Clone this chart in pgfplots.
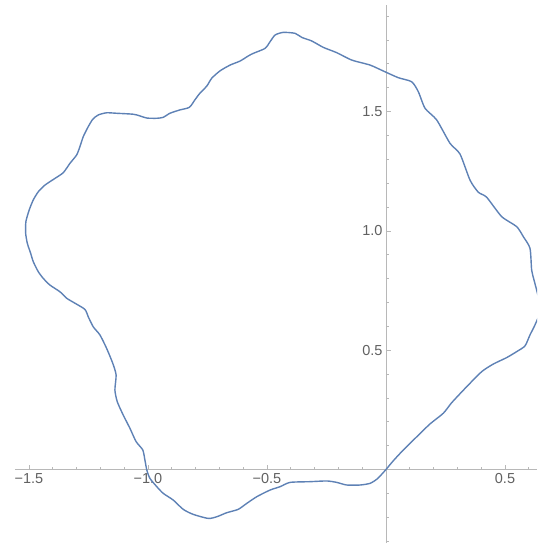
\documentclass[border=0pt]{standalone}
\usepackage{fontspec}
\setmainfont{Liberation Sans}
\usepackage{pgfplots}
\pgfplotsset{compat=1.18}
\definecolor{curve}{rgb}{0.368,0.507,0.710}
\definecolor{axgray}{gray}{0.72}
\definecolor{txtgray}{gray}{0.38}
\begin{document}
\begin{tikzpicture}
\begin{axis}[name=ax, scale only axis, width=522pt, height=538pt,
 axis lines=middle, xmin=-1.5588, xmax=0.6345, ymin=-0.308, ymax=1.9468,
 axis line style={axgray, line width=0.8pt, -},
 xtick={-1.5,-1,-0.5,0.5}, xticklabels={−1.5,−1.0,−0.5,0.5},
 ytick={0.5,1,1.5}, yticklabels={0.5,1.0,1.5},
 minor xtick={-1.4,-1.3,-1.2,-1.1,-0.9,-0.8,-0.7,-0.6,-0.4,-0.3,-0.2,-0.1,0.1,0.2,0.3,0.4,0.6},
 minor ytick={-0.3,-0.2,-0.1,0.1,0.2,0.3,0.4,0.6,0.7,0.8,0.9,1.1,1.2,1.3,1.4,1.6,1.7,1.8,1.9},
 tick style={axgray, line width=0.8pt},
 major tick length=5pt, minor tick length=3pt,
 tick align=inside,
 ticklabel style={font=\fontsize{14.5}{17}\selectfont, text=txtgray},
 clip=true,
 ]
\addplot[curve, line width=1.4pt, smooth, tension=0.4] coordinates {
(0,0) (0.031,0.037) (0.073,0.082) (0.129,0.137) (0.185,0.191) (0.241,0.236)
(0.276,0.280) (0.339,0.347) (0.402,0.410) (0.451,0.442) (0.507,0.469)
(0.549,0.494) (0.584,0.518) (0.605,0.564) (0.626,0.606) (0.650,0.668)
(0.640,0.724) (0.622,0.794) (0.612,0.836) (0.605,0.927) (0.577,0.976)
(0.549,1.018) (0.486,1.060) (0.423,1.141) (0.388,1.162) (0.353,1.213)
(0.311,1.322) (0.269,1.367) (0.213,1.465) (0.164,1.514) (0.136,1.583)
(0.108,1.625) (0.052,1.642) (-0.011,1.670) (-0.067,1.695) (-0.144,1.716)
(-0.207,1.747) (-0.263,1.769) (-0.312,1.796) (-0.354,1.811) (-0.382,1.828)
(-0.432,1.832) (-0.466,1.821) (-0.487,1.793) (-0.508,1.765) (-0.558,1.744)
(-0.579,1.733) (-0.613,1.712) (-0.655,1.695) (-0.697,1.671) (-0.732,1.640)
(-0.753,1.607) (-0.782,1.577) (-0.803,1.549) (-0.826,1.518) (-0.866,1.507)
(-0.908,1.493) (-0.936,1.476) (-0.963,1.472) (-1.005,1.473) (-1.034,1.482)
(-1.062,1.489) (-1.132,1.493) (-1.174,1.495) (-1.209,1.486) (-1.232,1.468)
(-1.251,1.437) (-1.272,1.395) (-1.286,1.353) (-1.300,1.318) (-1.328,1.283)
(-1.356,1.244) (-1.391,1.220) (-1.433,1.192) (-1.461,1.164) (-1.482,1.130)
(-1.499,1.088) (-1.513,1.039) (-1.514,0.990) (-1.507,0.948) (-1.493,0.906)
(-1.482,0.871) (-1.461,0.829) (-1.440,0.801) (-1.412,0.773) (-1.370,0.745)
(-1.342,0.718) (-1.307,0.697) (-1.265,0.671) (-1.251,0.640) (-1.230,0.598)
(-1.202,0.564) (-1.174,0.508) (-1.148,0.445) (-1.134,0.396) (-1.139,0.333)
(-1.129,0.284) (-1.104,0.228) (-1.076,0.173) (-1.050,0.117) (-1.022,0.082)
(-1.013,0.040) (-1.005,-0.002) (-0.992,-0.037) (-0.963,-0.072) (-0.936,-0.100)
(-0.894,-0.128) (-0.852,-0.167) (-0.810,-0.188) (-0.747,-0.205) (-0.711,-0.198)
(-0.669,-0.181) (-0.621,-0.167) (-0.585,-0.142) (-0.543,-0.114) (-0.487,-0.086)
(-0.445,-0.072) (-0.403,-0.054) (-0.319,-0.051) (-0.249,-0.048) (-0.207,-0.054)
(-0.165,-0.065) (-0.109,-0.065) (-0.067,-0.058) (-0.039,-0.041) (-0.018,-0.020)
(0,0)
};
\end{axis}
\pgfresetboundingbox
\path[use as bounding box] ([xshift=-15pt,yshift=-2pt]ax.south west) rectangle ([yshift=5pt]ax.north east);
\end{tikzpicture}
\end{document}
